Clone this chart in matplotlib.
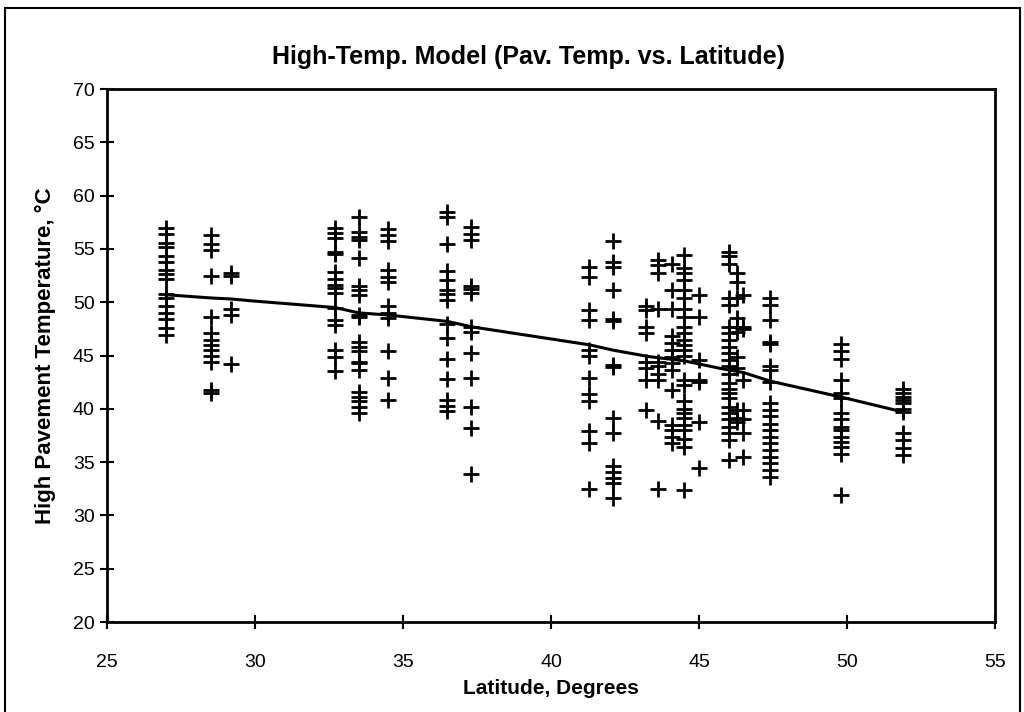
import matplotlib
matplotlib.use("Agg")
import matplotlib.pyplot as plt
from matplotlib.patches import Rectangle
import numpy as np

plt.rcParams['font.family'] = ['Liberation Sans', 'DejaVu Sans']

lat_27 = [57.0, 56.4, 55.6, 55.2, 54.3, 53.8, 53.0, 52.6, 52.2, 50.8, 50.4,
          49.6, 49.0, 48.4, 47.6, 46.9]
lat_28_5 = [56.3, 55.5, 54.9, 52.5, 48.6, 47.1, 46.5, 46.0, 45.5, 45.0, 44.4,
            41.8, 41.5]
lat_29_2 = [52.7, 52.5, 49.4, 48.8, 44.2]
lat_32_7 = [57.0, 56.5, 56.0, 54.7, 54.5, 52.8, 52.2, 51.6, 51.3, 50.9, 49.5,
            48.3, 47.9, 45.5, 44.9, 43.5]
lat_33_5 = [58.0, 56.6, 56.1, 55.8, 54.1, 51.5, 51.1, 50.7, 48.8, 48.6, 46.3,
            45.8, 45.4, 44.4, 44.3, 43.6, 41.6, 41.1, 40.7, 40.2, 39.6]
lat_34_5 = [56.9, 56.3, 55.7, 53.0, 52.4, 51.9, 49.6, 49.0, 48.5, 45.4, 42.9,
            40.8]
lat_36_5 = [58.5, 58.0, 55.5, 52.9, 52.1, 51.1, 50.8, 50.2, 48.0, 46.6, 44.7,
            42.8, 40.8, 40.3, 39.8]
lat_37_3 = [57.1, 56.4, 55.8, 51.5, 51.2, 50.9, 47.7, 47.2, 45.2, 42.9, 40.2,
            38.2, 33.9]
lat_41_3 = [53.3, 52.4, 49.3, 48.3, 45.5, 45.0, 42.9, 41.4, 40.7, 37.9, 36.8,
            32.5]
lat_42_1 = [55.7, 53.8, 53.3, 51.1, 48.4, 48.2, 44.1, 43.9, 39.1, 37.7, 34.6,
            34.1, 33.5, 33.0, 31.6]
lat_43_2 = [49.6, 49.3, 47.7, 47.1, 44.4, 43.8, 42.7, 39.9]
lat_43_6 = [54.0, 53.5, 52.7, 49.4, 44.4, 44.0, 43.3, 42.7, 38.9, 32.5]
lat_44_1 = [53.6, 51.1, 49.4, 46.8, 46.2, 45.5, 44.9, 44.3, 43.6, 41.8, 38.5,
            38.0, 37.4, 36.8]
lat_44_5 = [54.4, 53.2, 52.7, 52.1, 51.1, 50.4, 49.4, 48.6, 47.7, 47.1, 46.5,
            46.0, 45.5, 45.0, 42.7, 42.2, 40.7, 40.0, 39.6, 39.1, 38.5, 38.0,
            37.2, 36.4, 32.4]
lat_45_0 = [50.7, 48.6, 44.6, 42.7, 42.5, 38.8, 34.4]
lat_46_0 = [54.7, 54.3, 53.6, 50.4, 49.7, 47.7, 47.1, 46.5, 45.8, 45.2, 44.6,
            44.0, 43.3, 42.4, 41.9, 41.5, 41.0, 40.2, 39.6, 39.0, 38.3, 37.7,
            37.1, 35.2]
lat_46_3 = [52.7, 51.9, 50.4, 48.5, 47.7, 47.2, 44.9, 43.8, 39.9, 39.1, 38.8]
lat_46_5 = [50.7, 47.7, 47.5, 42.7, 39.9, 39.0, 37.7, 35.5]
lat_47_4 = [50.4, 49.7, 48.3, 46.3, 46.1, 44.0, 43.6, 42.5, 40.5, 39.9, 39.3,
            38.6, 38.0, 37.4, 36.8, 36.1, 35.5, 34.9, 34.3, 33.6]
lat_49_8 = [46.1, 45.4, 44.7, 42.7, 41.5, 41.0, 39.6, 39.0, 38.3, 38.0, 37.4,
            36.9, 36.4, 35.8, 31.9]
lat_51_9 = [41.9, 41.5, 41.1, 40.8, 40.5, 40.0, 39.7, 37.7, 37.1, 36.3, 35.7]

groups = {27.0: lat_27, 28.5: lat_28_5, 29.2: lat_29_2, 32.7: lat_32_7,
          33.5: lat_33_5, 34.5: lat_34_5, 36.5: lat_36_5, 37.3: lat_37_3,
          41.3: lat_41_3, 42.1: lat_42_1, 43.2: lat_43_2, 43.6: lat_43_6,
          44.1: lat_44_1, 44.5: lat_44_5, 45.0: lat_45_0, 46.0: lat_46_0,
          46.3: lat_46_3, 46.5: lat_46_5, 47.4: lat_47_4, 49.8: lat_49_8,
          51.9: lat_51_9}

# model line
model_lat = [27.0, 28.5, 29.2, 30.0, 32.7, 33.5, 34.5, 36.5, 37.3, 41.3, 42.1,
             43.3, 44.5, 45.7, 46.5, 47.4, 49.8, 51.9]
model_temp = [50.7, 50.4, 50.3, 50.1, 49.5, 49.0, 48.8, 48.2, 47.7, 46.0,
              45.5, 44.9, 44.5, 43.8, 43.4, 42.6, 41.1, 39.7]

xs = []
ys = []
for la, temps in groups.items():
    xs += [la] * len(temps)
    ys += temps

fig = plt.figure(figsize=(10.24, 7.12), dpi=100)
ax = fig.add_axes([0.1045, 0.1264, 0.8672, 0.7486])

ax.plot(xs, ys, linestyle='none', marker='+', color='black', markersize=11,
        markeredgewidth=2)
ax.plot(model_lat, model_temp, color='black', linewidth=2.2)

ax.set_xlim(25, 55)
ax.set_ylim(20, 70)
ax.set_xticks(np.arange(25, 56, 5))
ax.set_yticks(np.arange(20, 71, 5))
ax.tick_params(direction='inout', length=10, width=1.5, labelsize=14,
               colors='black')
ax.tick_params(axis='x', pad=18)
ax.tick_params(axis='y', pad=4)
for sp in ax.spines.values():
    sp.set_linewidth(2)

# title sits a bit left of the plot centre, like the original
fig.text(0.516, 0.92, 'High-Temp. Model (Pav. Temp. vs. Latitude)',
         fontsize=18, fontweight='bold', ha='center', va='center')
ax.set_xlabel('Latitude, Degrees', fontsize=15, fontweight='bold', labelpad=6)
ax.set_ylabel('High Pavement Temperature, °C', fontsize=16,
              fontweight='bold', labelpad=12)

# outer chart frame
fig.patches.append(Rectangle((0.005, -0.01), 0.991, 0.999, transform=fig.transFigure,
                             fill=False, edgecolor='black', linewidth=1.5))

fig.savefig('out.png', dpi=100)
